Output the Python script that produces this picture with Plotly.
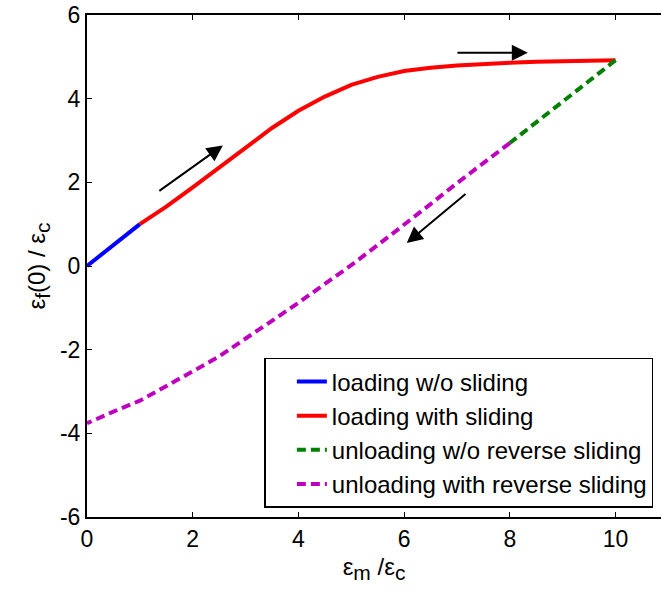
import plotly.graph_objects as go

# loading without sliding
x_blue = [0, 0.5, 1.0]
y_blue = [0, 0.5, 1.0]
# loading with sliding
x_red = [1.0, 1.5, 2.0, 2.5, 3.0, 3.5, 4.0, 4.5, 5.0, 5.5, 6.0, 6.5, 7.0, 7.5, 8.0, 8.5, 9.0, 9.5, 10.0]
y_red = [1.0, 1.42, 1.88, 2.36, 2.84, 3.30, 3.71, 4.05, 4.33, 4.52, 4.66, 4.74, 4.79, 4.83, 4.86, 4.88, 4.90, 4.91, 4.92]
# unloading without reverse sliding
x_green = [10.0, 9.0, 8.0]
y_green = [4.92, 3.92, 2.94]
# unloading with reverse sliding
x_mag = [8.0, 7.5, 7.0, 6.5, 6.0, 5.5, 5.0, 4.5, 4.0, 3.5, 3.0, 2.5, 2.0, 1.5, 1.0, 0.5, 0.0]
y_mag = [2.94, 2.47, 1.98, 1.48, 0.98, 0.50, 0.02, -0.44, -0.88, -1.31, -1.73, -2.16, -2.52, -2.86, -3.22, -3.48, -3.76]

names = ["loading w/o sliding", "loading with sliding",
         "unloading w/o reverse sliding", "unloading with reverse sliding"]

x_ticks = [0, 2, 4, 6, 8, 10]
x_ticktext = ["0", "2", "4", "6", "8", "10"]
y_ticks = [-6, -4, -2, 0, 2, 4, 6]
y_ticktext = ["-6", "-4", "-2", "0", "2", "4", "6"]

FONT = "Arial, Liberation Sans, sans-serif"

fig = go.Figure()
fig.add_trace(go.Scatter(x=x_blue, y=y_blue, mode="lines", name=names[0], legendgroup="a",
                         line=dict(color="#0000ff", width=4)))
fig.add_trace(go.Scatter(x=x_red, y=y_red, mode="lines", name=names[1], legendgroup="b",
                         line=dict(color="#ff0000", width=4)))
fig.add_trace(go.Scatter(x=x_green, y=y_green, mode="lines", name=names[2], legendgroup="c",
                         line=dict(color="#008000", width=4, dash="9px,5px")))
fig.add_trace(go.Scatter(x=x_mag, y=y_mag, mode="lines", name=names[3], legendgroup="d",
                         line=dict(color="#bf00bf", width=4, dash="9px,5px")))

arrows = [((1.34, 1.77), (2.57, 2.88)), ((6.98, 5.1), (8.34, 5.1)), ((7.19, 1.75), (6.05, 0.55))]
for (x0, y0), (x1, y1) in arrows:
    fig.add_annotation(x=x1, y=y1, ax=x0, ay=y0, xref="x", yref="y", axref="x", ayref="y",
                       text="", showarrow=True, arrowhead=2, arrowsize=1.6, arrowwidth=2,
                       arrowcolor="black")

axis_common = dict(showline=True, linecolor="black", linewidth=2,
                   ticks="inside", ticklen=5, tickwidth=1, tickcolor="black",
                   showgrid=False, zeroline=False, automargin=False,
                   tickfont=dict(family=FONT, size=23, color="black"))

def sub(s):
    return '<sub><span style="font-size:21px">' + s + '</span></sub>'

fig.update_xaxes(range=[0, 10.86], tickvals=x_ticks, ticktext=x_ticktext, mirror="ticks",
                 title=dict(text="ε" + sub("m") + " /ε" + sub("c"), standoff=8,
                            font=dict(family=FONT, size=24, color="black")),
                 **axis_common)
fig.update_yaxes(range=[-6, 6], tickvals=y_ticks, ticktext=y_ticktext, mirror=False,
                 title=dict(text="ε" + sub("f") + "(0) / ε" + sub("c"), standoff=8,
                            font=dict(family=FONT, size=24, color="black")),
                 **axis_common)

fig.update_layout(
    width=661, height=594,
    margin=dict(l=87, r=0, t=15, b=77),
    plot_bgcolor="white", paper_bgcolor="white",
    legend=dict(x=0.309, y=0.317, xanchor="left", yanchor="top",
                bordercolor="black", borderwidth=1.5, bgcolor="white",
                tracegroupgap=0, indentation=26,
                font=dict(family=FONT, size=24, color="black")),
)

fig.write_html("out.html", config={"displayModeBar": False},
               post_script="document.body.style.margin='0';document.body.style.overflow='hidden';")
